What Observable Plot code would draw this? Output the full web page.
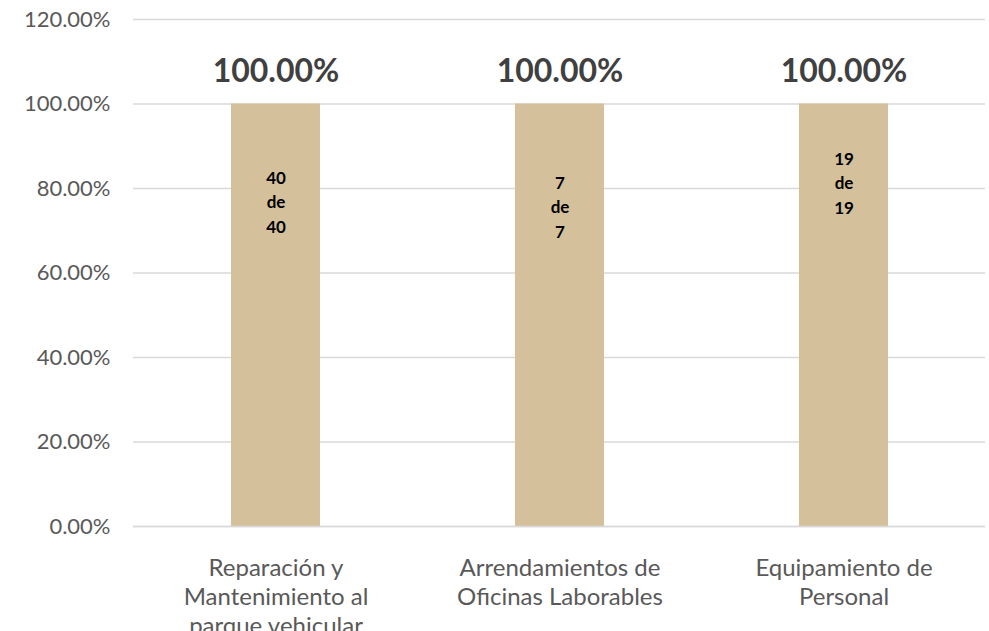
<!DOCTYPE html>
<html><head><meta charset="utf-8">
<script src="https://cdn.jsdelivr.net/npm/d3@7"></script>
<script src="https://cdn.jsdelivr.net/npm/@observablehq/plot@0.6"></script>
<style>
html,body{margin:0;padding:0;background:#fff;overflow:hidden;}
</style>
</head><body>
<div id="chart"></div>
<script>
const categories = ["Reparación y\nMantenimiento al\nparque vehicular", "Arrendamientos de\nOficinas Laborables", "Equipamiento de\nPersonal"];
const values = [1.0, 1.0, 1.0];
const innerLabels = ["40\nde\n40", "7\nde\n7", "19\nde\n19"];
const innerLabelAt = [0.772, 0.76, 0.817];
const yTicks = [0, 0.2, 0.4, 0.6, 0.8, 1.0, 1.2];

const data = categories.map((c, i) => ({cat: c, v: values[i], inner: innerLabels[i], at: innerLabelAt[i]}));
const fmt = d3.format(".2%");
const font = "Lato, 'Open Sans', sans-serif";

const chart = Plot.plot({
  width: 989,
  height: 631,
  marginLeft: 133,
  marginRight: 4,
  marginTop: 19,
  marginBottom: 105,
  style: {fontFamily: font, background: "#fff"},
  x: {domain: categories, paddingInner: 0.687, paddingOuter: 0.3435, label: null},
  y: {domain: [0, 1.2], label: null},
  marks: [
    Plot.gridY(yTicks, {stroke: "#d9d9d9", strokeOpacity: 1, strokeWidth: 1.5}),
    Plot.barY(data, {x: "cat", y: "v", fill: "#d4c19c"}),
    Plot.ruleY([0], {stroke: "#d9d9d9", strokeWidth: 1.5}),
    Plot.axisY(yTicks, {tickSize: 0, tickPadding: 23, tickFormat: fmt, fontSize: 22, fill: "#595959", label: null}),
    Plot.axisX({tickSize: 0, tickPadding: 29, fontSize: 24, fill: "#595959", lineHeight: 1.2, label: null, textOverflow: null}),
    Plot.text(data, {x: "cat", y: "v", text: d => fmt(d.v), dy: -32, fontSize: 32, fontWeight: "bold", fill: "#404040"}),
    Plot.text(data, {x: "cat", y: "at", text: "inner", fontSize: 17, fontWeight: "bold", fill: "#000", lineHeight: 1.45})
  ]
});
document.getElementById("chart").appendChild(chart);
</script>
</body></html>
